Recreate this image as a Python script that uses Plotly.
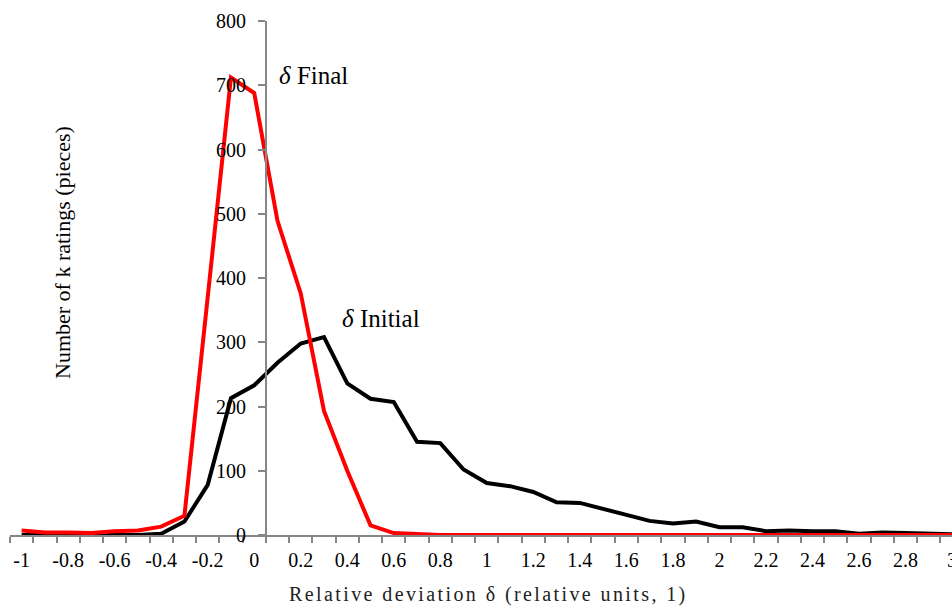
import plotly.graph_objects as go

# Categories (relative deviation)
delta = [-1.0, -0.9, -0.8, -0.7, -0.6, -0.5, -0.4, -0.3, -0.2, -0.1,
         0.0, 0.1, 0.2, 0.3, 0.4, 0.5, 0.6, 0.7, 0.8, 0.9,
         1.0, 1.1, 1.2, 1.3, 1.4, 1.5, 1.6, 1.7, 1.8, 1.9,
         2.0, 2.1, 2.2, 2.3, 2.4, 2.5, 2.6, 2.7, 2.8, 2.9, 3.0]

initial = [0, 0, 0, 0, 0, 0, 2, 21, 78, 213,
           233, 268, 298, 308, 236, 212, 207, 145, 143, 102,
           81, 76, 67, 51, 50, 41, 32, 22, 18, 21,
           12, 12, 6, 7, 6, 6, 2, 4, 3, 2, 1]

final = [7, 4, 4, 3, 6, 7, 13, 30, 370, 712,
         688, 489, 376, 193, 100, 15, 3, 1, 0, 0,
         0, 0, 0, 0, 0, 0, 0, 0, 0, 0,
         0, 0, 0, 0, 0, 0, 0, 0, 0, 0, 0]

tick_vals = [-1.0, -0.8, -0.6, -0.4, -0.2, 0.0, 0.2, 0.4, 0.6, 0.8, 1.0,
             1.2, 1.4, 1.6, 1.8, 2.0, 2.2, 2.4, 2.6, 2.8, 3.0]
tick_text = ["-1", "-0.8", "-0.6", "-0.4", "-0.2", "0", "0.2", "0.4", "0.6", "0.8", "1",
             "1.2", "1.4", "1.6", "1.8", "2", "2.2", "2.4", "2.6", "2.8", "3"]

FONT = "Liberation Serif"
AXC = "#868686"
x_min, x_max = -1.05, 3.0
y_cross = 0.05

fig = go.Figure()
fig.add_trace(go.Scatter(x=delta, y=initial, mode="lines",
                         line=dict(color="black", width=4), name="δ Initial"))
fig.add_trace(go.Scatter(x=delta, y=final, mode="lines",
                         line=dict(color="#ff0000", width=4), name="δ Final"))

fig.update_layout(
    width=952, height=608,
    margin=dict(l=10, r=0, t=21, b=73),
    paper_bgcolor="white", plot_bgcolor="white",
    showlegend=False,
    font=dict(family=FONT, size=20, color="black"),
    xaxis=dict(
        range=[x_min, x_max], showgrid=False, zeroline=False,
        showline=True, linecolor=AXC, linewidth=1.5,
        tickmode="array", tickvals=tick_vals, ticktext=tick_text,
        ticks="", ticklabelstandoff=6, automargin=False,
        ticklabeloverflow="allow",
        tickfont=dict(family=FONT, size=20, color="black"),
        minor=dict(tickmode="linear", tick0=-1.05, dtick=0.1, ticks="outside",
                   ticklen=6, tickcolor=AXC, tickwidth=1.5, showgrid=False),
    ),
    yaxis=dict(
        range=[0, 800], dtick=100, showgrid=False, zeroline=False,
        anchor="free", position=(y_cross - x_min) / (x_max - x_min),
        showline=True, linecolor=AXC, linewidth=1.5,
        ticks="outside", ticklen=7, tickcolor=AXC, tickwidth=1.5,
        ticklabelstandoff=8, automargin=False,
        tickfont=dict(family=FONT, size=20, color="black"),
    ),
)

fig.add_annotation(xref="paper", yref="paper", x=(488 - 10) / 942, y=-(594 - 535) / 514,
                   text='<span style="letter-spacing:2.4px">Relative deviation δ (relative units, 1)</span>',
                   showarrow=False,
                   font=dict(family=FONT, size=20, color="#222222"),
                   xanchor="center", yanchor="middle")
fig.add_annotation(xref="paper", yref="paper", x=(63 - 10) / 942, y=(535 - 253) / 514,
                   text="Number of k ratings (pieces)", showarrow=False, textangle=-90,
                   font=dict(family=FONT, size=22, color="black"),
                   xanchor="center", yanchor="middle")
fig.add_annotation(x=0.1, y=715, text="<i>δ</i> Final", showarrow=False,
                   xanchor="left", yanchor="middle",
                   font=dict(family=FONT, size=25, color="black"))
fig.add_annotation(x=0.37, y=337, text="<i>δ</i> Initial", showarrow=False,
                   xanchor="left", yanchor="middle",
                   font=dict(family=FONT, size=25, color="black"))

fig.write_html("out.html", config={"displayModeBar": False},
               post_script="document.body.style.margin='0';")
